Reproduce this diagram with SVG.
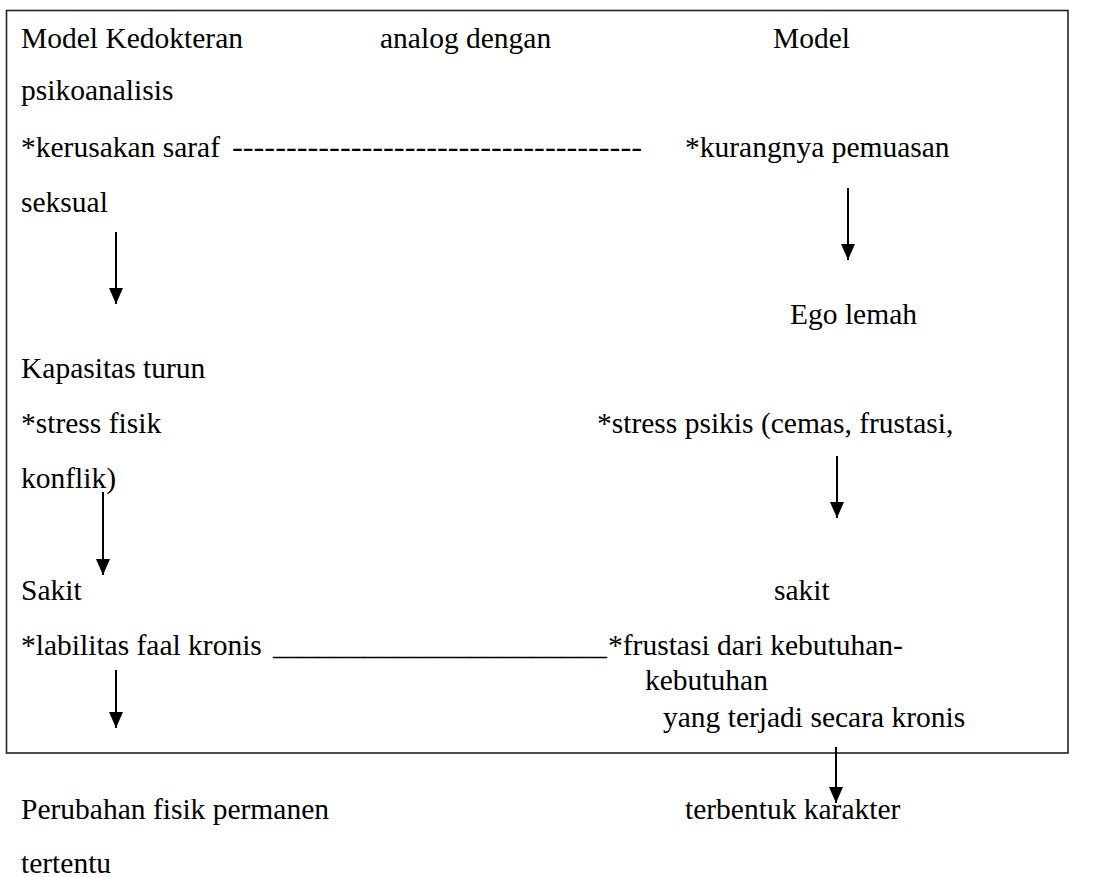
<svg xmlns="http://www.w3.org/2000/svg" width="1112" height="877" viewBox="0 0 1112 877">
<style>
.conn line{stroke:#000;stroke-width:2;marker-end:url(#ah)}
</style>
<defs>
<marker id="ah" markerUnits="userSpaceOnUse" markerWidth="16" markerHeight="14" refX="16" refY="7" orient="auto">
<path d="M0,0 L16,7 L0,14 z" fill="#000"/>
</marker>
</defs>
<rect width="1112" height="877" fill="#fff"/>
<rect x="6.5" y="10.5" width="1061.5" height="742.5" fill="none" stroke="#222" stroke-width="1.6"/>
<g id="header">
<text x="21" y="48" font-family="Liberation Serif" font-size="29.5" style="font-family:'Liberation Serif',serif">Model Kedokteran</text>
<text x="380" y="48" font-family="Liberation Serif" font-size="29.5" style="font-family:'Liberation Serif',serif">analog dengan</text>
<text x="773" y="48" font-family="Liberation Serif" font-size="29.5" style="font-family:'Liberation Serif',serif">Model</text>
<text x="21" y="100" font-family="Liberation Serif" font-size="29.5" style="font-family:'Liberation Serif',serif">psikoanalisis</text>
</g>
<g id="n-kerusakan"><text x="21" y="157" font-family="Liberation Serif" font-size="29.5" style="font-family:'Liberation Serif',serif">*kerusakan saraf</text></g>
<g id="n-kurangnya"><text x="685" y="157" font-family="Liberation Serif" font-size="29.5" style="font-family:'Liberation Serif',serif">*kurangnya pemuasan</text></g>
<g id="n-seksual"><text x="21" y="212" font-family="Liberation Serif" font-size="29.5" style="font-family:'Liberation Serif',serif">seksual</text></g>
<g id="n-ego"><text x="790" y="324" font-family="Liberation Serif" font-size="29.5" style="font-family:'Liberation Serif',serif">Ego lemah</text></g>
<g id="n-kapasitas"><text x="21" y="378" font-family="Liberation Serif" font-size="29.5" style="font-family:'Liberation Serif',serif">Kapasitas turun</text></g>
<g id="n-stressfisik"><text x="21" y="433" font-family="Liberation Serif" font-size="29.5" style="font-family:'Liberation Serif',serif">*stress fisik</text></g>
<g id="n-stresspsikis"><text x="597" y="433" font-family="Liberation Serif" font-size="29.5" style="font-family:'Liberation Serif',serif">*stress psikis (cemas, frustasi,</text></g>
<g id="n-konflik"><text x="21" y="488" font-family="Liberation Serif" font-size="29.5" style="font-family:'Liberation Serif',serif">konflik)</text></g>
<g id="n-sakit1"><text x="21" y="600" font-family="Liberation Serif" font-size="29.5" style="font-family:'Liberation Serif',serif">Sakit</text></g>
<g id="n-sakit2"><text x="774" y="600" font-family="Liberation Serif" font-size="29.5" style="font-family:'Liberation Serif',serif">sakit</text></g>
<g id="n-labilitas"><text x="21" y="655" font-family="Liberation Serif" font-size="29.5" style="font-family:'Liberation Serif',serif">*labilitas faal kronis</text></g>
<g id="n-frustasi">
<text x="608" y="655" font-family="Liberation Serif" font-size="29.5" style="font-family:'Liberation Serif',serif">*frustasi dari kebutuhan-</text>
<text x="645" y="690" font-family="Liberation Serif" font-size="29.5" style="font-family:'Liberation Serif',serif">kebutuhan</text>
<text x="663" y="727" font-family="Liberation Serif" font-size="29.5" style="font-family:'Liberation Serif',serif">yang terjadi secara kronis</text>
</g>
<g id="n-perubahan">
<text x="21" y="819" font-family="Liberation Serif" font-size="29.5" style="font-family:'Liberation Serif',serif">Perubahan fisik permanen</text>
<text x="21" y="873" font-family="Liberation Serif" font-size="29.5" style="font-family:'Liberation Serif',serif">tertentu</text>
</g>
<g id="n-karakter"><text x="685" y="819" font-family="Liberation Serif" font-size="29.5" style="font-family:'Liberation Serif',serif">terbentuk karakter</text></g>
<g class="conn" id="connectors">
<text x="232" y="157" font-family="Liberation Serif" font-size="29.5" style="font-family:'Liberation Serif',serif" textLength="410" lengthAdjust="spacingAndGlyphs">--------------------------------------</text>
<text x="273" y="655" font-family="Liberation Serif" font-size="29.5" style="font-family:'Liberation Serif',serif" textLength="334" lengthAdjust="spacingAndGlyphs">______________________</text>
<line x1="116" y1="232" x2="116" y2="304"/>
<line x1="848" y1="188" x2="848" y2="260"/>
<line x1="103" y1="492" x2="103" y2="575"/>
<line x1="837" y1="456" x2="837" y2="518"/>
<line x1="116" y1="670" x2="116" y2="728"/>
<line x1="836" y1="747" x2="836" y2="803"/>
</g>
</svg>
